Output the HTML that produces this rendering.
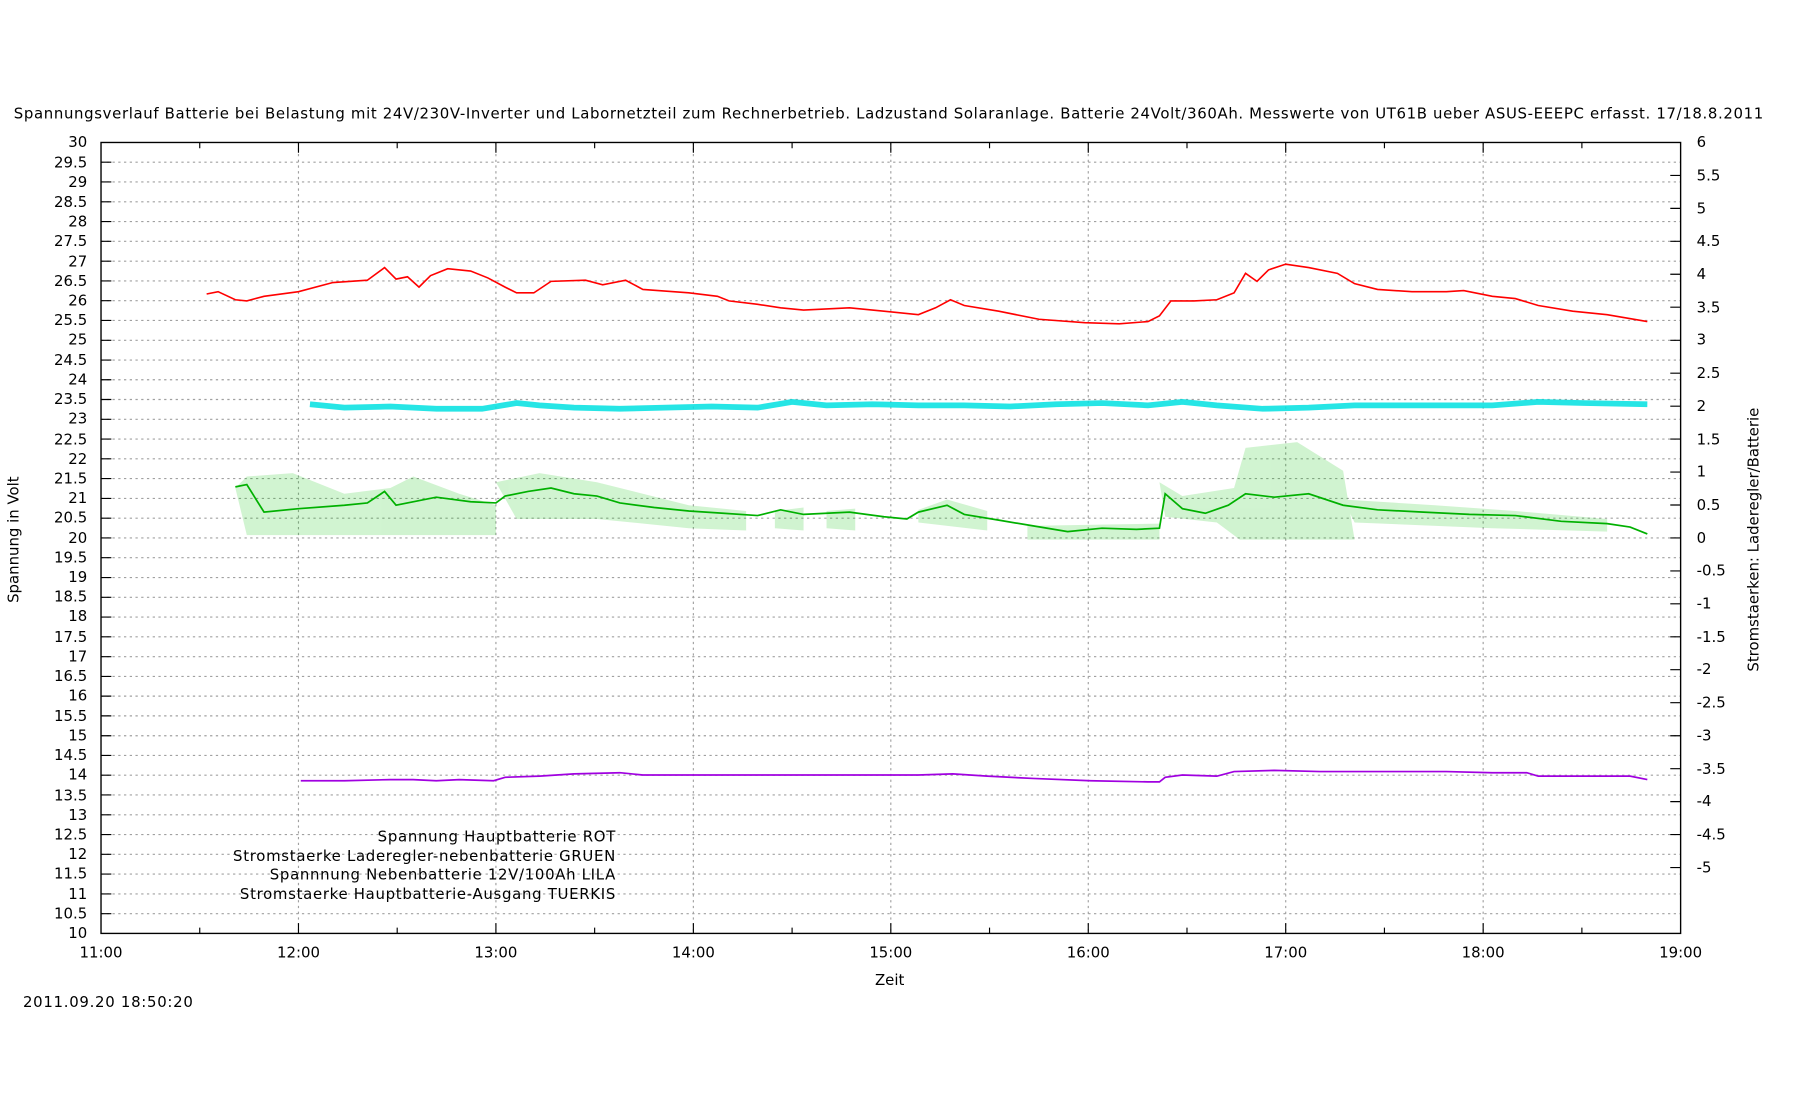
<!DOCTYPE html>
<html><head><meta charset="utf-8"><style>
html,body{margin:0;padding:0;background:#fff}
svg{display:block}
text{font-family:"DejaVu Sans","Liberation Sans",sans-serif;font-size:13px;fill:#000}
</style></head><body>
<svg width="1800" height="1100" viewBox="0 0 1568 958" xmlns="http://www.w3.org/2000/svg">
<rect width="1568" height="958" fill="#fff"/>
<text x="12" y="103" textLength="1524" lengthAdjust="spacing">Spannungsverlauf Batterie bei Belastung mit 24V/230V-Inverter und Labornetzteil zum Rechnerbetrieb. Ladzustand Solaranlage. Batterie 24Volt/360Ah. Messwerte von UT61B ueber ASUS-EEEPC erfasst. 17/18.8.2011</text>
<g stroke="#a0a0a0" stroke-width="1" stroke-dasharray="2,3">
<path d="M88 141.2H1464M88 158.4H1464M88 175.7H1464M88 192.9H1464M88 210.1H1464M88 227.4H1464M88 244.6H1464M88 261.8H1464M88 279H1464M88 296.3H1464M88 313.5H1464M88 330.7H1464M88 347.9H1464M88 365.2H1464M88 382.4H1464M88 399.6H1464M88 416.8H1464M88 434.1H1464M88 451.3H1464M88 468.5H1464M88 485.7H1464M88 503H1464M88 520.2H1464M88 537.4H1464M88 554.6H1464M88 571.9H1464M88 589.1H1464M88 606.3H1464M88 623.5H1464M88 640.8H1464M88 658H1464M88 675.2H1464M88 692.4H1464M88 709.7H1464M88 726.9H1464M88 744.1H1464M88 761.3H1464M88 778.6H1464M88 795.8H1464"/>
<path d="M260 124V813M432 124V813M604 124V813M776 124V813M948 124V813M1120 124V813M1292 124V813"/>
</g>
<rect x="88" y="124" width="1376" height="689" fill="none" stroke="#000" stroke-width="1.2"/>
<g stroke="#000" stroke-width="1">
<path d="M88 141.2h9M88 158.4h9M88 175.7h9M88 192.9h9M88 210.1h9M88 227.4h9M88 244.6h9M88 261.8h9M88 279h9M88 296.3h9M88 313.5h9M88 330.7h9M88 347.9h9M88 365.2h9M88 382.4h9M88 399.6h9M88 416.8h9M88 434.1h9M88 451.3h9M88 468.5h9M88 485.7h9M88 503h9M88 520.2h9M88 537.4h9M88 554.6h9M88 571.9h9M88 589.1h9M88 606.3h9M88 623.5h9M88 640.8h9M88 658h9M88 675.2h9M88 692.4h9M88 709.7h9M88 726.9h9M88 744.1h9M88 761.3h9M88 778.6h9M88 795.8h9"/>
<path d="M1464 152.7h-9M1464 181.4h-9M1464 210.1h-9M1464 238.8h-9M1464 267.5h-9M1464 296.3h-9M1464 325h-9M1464 353.7h-9M1464 382.4h-9M1464 411.1h-9M1464 439.8h-9M1464 468.5h-9M1464 497.2h-9M1464 525.9h-9M1464 554.6h-9M1464 583.3h-9M1464 612h-9M1464 640.8h-9M1464 669.5h-9M1464 698.2h-9M1464 726.9h-9M1464 755.6h-9"/>
<path d="M174 124v5M174 813v-5M260 124v9M260 813v-9M346 124v5M346 813v-5M432 124v9M432 813v-9M518 124v5M518 813v-5M604 124v9M604 813v-9M690 124v5M690 813v-5M776 124v9M776 813v-9M862 124v5M862 813v-5M948 124v9M948 813v-9M1034 124v5M1034 813v-5M1120 124v9M1120 813v-9M1206 124v5M1206 813v-5M1292 124v9M1292 813v-9M1378 124v5M1378 813v-5"/>
</g>
<g text-anchor="end">
<text x="76" y="128">30</text><text x="76" y="146">29.5</text><text x="76" y="163">29</text><text x="76" y="180">28.5</text><text x="76" y="197">28</text><text x="76" y="214">27.5</text><text x="76" y="232">27</text><text x="76" y="249">26.5</text><text x="76" y="266">26</text><text x="76" y="283">25.5</text><text x="76" y="300">25</text><text x="76" y="318">24.5</text><text x="76" y="335">24</text><text x="76" y="352">23.5</text><text x="76" y="369">23</text><text x="76" y="387">22.5</text><text x="76" y="404">22</text><text x="76" y="421">21.5</text><text x="76" y="438">21</text><text x="76" y="455">20.5</text><text x="76" y="473">20</text><text x="76" y="490">19.5</text><text x="76" y="507">19</text><text x="76" y="524">18.5</text><text x="76" y="541">18</text><text x="76" y="559">17.5</text><text x="76" y="576">17</text><text x="76" y="593">16.5</text><text x="76" y="610">16</text><text x="76" y="628">15.5</text><text x="76" y="645">15</text><text x="76" y="662">14.5</text><text x="76" y="679">14</text><text x="76" y="697">13.5</text><text x="76" y="714">13</text><text x="76" y="731">12.5</text><text x="76" y="748">12</text><text x="76" y="765">11.5</text><text x="76" y="783">11</text><text x="76" y="800">10.5</text><text x="76" y="817">10</text>
</g>
<g>
<text x="1478" y="128">6</text><text x="1478" y="157">5.5</text><text x="1478" y="186">5</text><text x="1478" y="214">4.5</text><text x="1478" y="243">4</text><text x="1478" y="272">3.5</text><text x="1478" y="300">3</text><text x="1478" y="329">2.5</text><text x="1478" y="358">2</text><text x="1478" y="387">1.5</text><text x="1478" y="415">1</text><text x="1478" y="444">0.5</text><text x="1478" y="473">0</text><text x="1478" y="501">-0.5</text><text x="1478" y="530">-1</text><text x="1478" y="559">-1.5</text><text x="1478" y="587">-2</text><text x="1478" y="616">-2.5</text><text x="1478" y="645">-3</text><text x="1478" y="674">-3.5</text><text x="1478" y="702">-4</text><text x="1478" y="731">-4.5</text><text x="1478" y="760">-5</text>
</g>
<g text-anchor="middle">
<text x="88" y="834">11:00</text><text x="260" y="834">12:00</text><text x="432" y="834">13:00</text><text x="604" y="834">14:00</text><text x="776" y="834">15:00</text><text x="948" y="834">16:00</text><text x="1120" y="834">17:00</text><text x="1292" y="834">18:00</text><text x="1464" y="834">19:00</text>
<text x="775" y="858">Zeit</text>
<text transform="translate(16,470) rotate(-90)">Spannung in Volt</text>
<text transform="translate(1532,470) rotate(-90)">Stromstaerken: Laderegler/Batterie</text>
</g>
<text x="20" y="877" textLength="148" lengthAdjust="spacing">2011.09.20 18:50:20</text>
<text x="329" y="733" textLength="207" lengthAdjust="spacing">Spannung Hauptbatterie ROT</text>
<text x="203" y="750" textLength="333" lengthAdjust="spacing">Stromstaerke Laderegler-nebenbatterie GRUEN</text>
<text x="235" y="766" textLength="301" lengthAdjust="spacing">Spannnung Nebenbatterie 12V/100Ah LILA</text>
<text x="209" y="783" textLength="327" lengthAdjust="spacing">Stromstaerke Hauptbatterie-Ausgang TUERKIS</text>
<polyline fill="none" stroke="#00e0e0" stroke-width="5" opacity="0.85" points="270,352 300,355 340,354 380,356 420,356 450,351 470,353 500,355 540,356 580,355 620,354 660,355 690,350 720,353 760,352 800,353 840,353 880,354 920,352 960,351 1000,353 1030,350 1060,353 1100,356 1140,355 1180,353 1220,353 1260,353 1300,353 1340,350 1380,351 1435,352"/>
<g fill="#00c000" opacity="0.18">
<polygon points="205,425 215,415 255,412 300,430 340,425 360,415 400,430 432,440 432,466 215,466"/>
<polygon points="432,420 470,412 520,420 560,430 600,440 650,445 650,462 600,460 520,452 450,452"/>
<polygon points="675,445 700,442 700,462 675,460"/><polygon points="720,445 745,443 745,462 720,460"/>
<polygon points="800,444 825,435 860,445 860,462 800,455"/>
<polygon points="895,458 1010,456 1010,470 895,470"/>
<polygon points="1010,420 1030,432 1075,425 1085,390 1130,385 1170,410 1180,470 1080,470 1060,455 1015,450"/>
<polygon points="1170,435 1250,440 1320,445 1400,452 1400,463 1300,460 1180,455"/>
</g>
<polyline fill="none" stroke="#00b000" stroke-width="1.5" points="205,424 215,422 230,446 260,443 300,440 320,438 335,428 345,440 380,433 410,437 432,438 440,432 460,428 480,425 500,430 520,432 540,438 570,442 600,445 630,447 660,449 680,444 700,448 720,447 740,446 770,450 790,452 800,446 825,440 840,448 870,453 900,458 930,463 960,460 990,461 1010,460 1015,430 1030,443 1050,447 1070,440 1085,430 1110,433 1140,430 1170,440 1200,444 1240,446 1280,448 1320,449 1360,454 1400,456 1420,459 1435,465"/>
<polyline fill="none" stroke="#a000e0" stroke-width="1.5" points="262,680 300,680 340,679 360,679 380,680 400,679 430,680 440,677 470,676 500,674 540,673 560,675 600,675 700,675 800,675 830,674 860,676 900,678 950,680 1000,681 1010,681 1015,677 1030,675 1060,676 1075,672 1110,671 1150,672 1200,672 1260,672 1300,673 1330,673 1340,676 1400,676 1420,676 1435,679"/>
<polyline fill="none" stroke="#ff0000" stroke-width="1.4" points="180,256 190,254 205,261 215,262 230,258 260,254 290,246 320,244 335,233 345,243 355,241 365,250 375,240 390,234 410,236 425,242 440,250 450,255 465,255 480,245 510,244 525,248 545,244 560,252 600,255 625,258 635,262 660,265 680,268 700,270 740,268 770,271 800,274 815,268 828,261 840,266 870,271 905,278 945,281 975,282 1000,280 1010,275 1020,262 1040,262 1060,261 1075,255 1085,238 1095,245 1105,235 1120,230 1140,233 1165,238 1180,247 1200,252 1230,254 1260,254 1275,253 1300,258 1320,260 1340,266 1370,271 1400,274 1435,280"/>
</svg>
</body></html>
